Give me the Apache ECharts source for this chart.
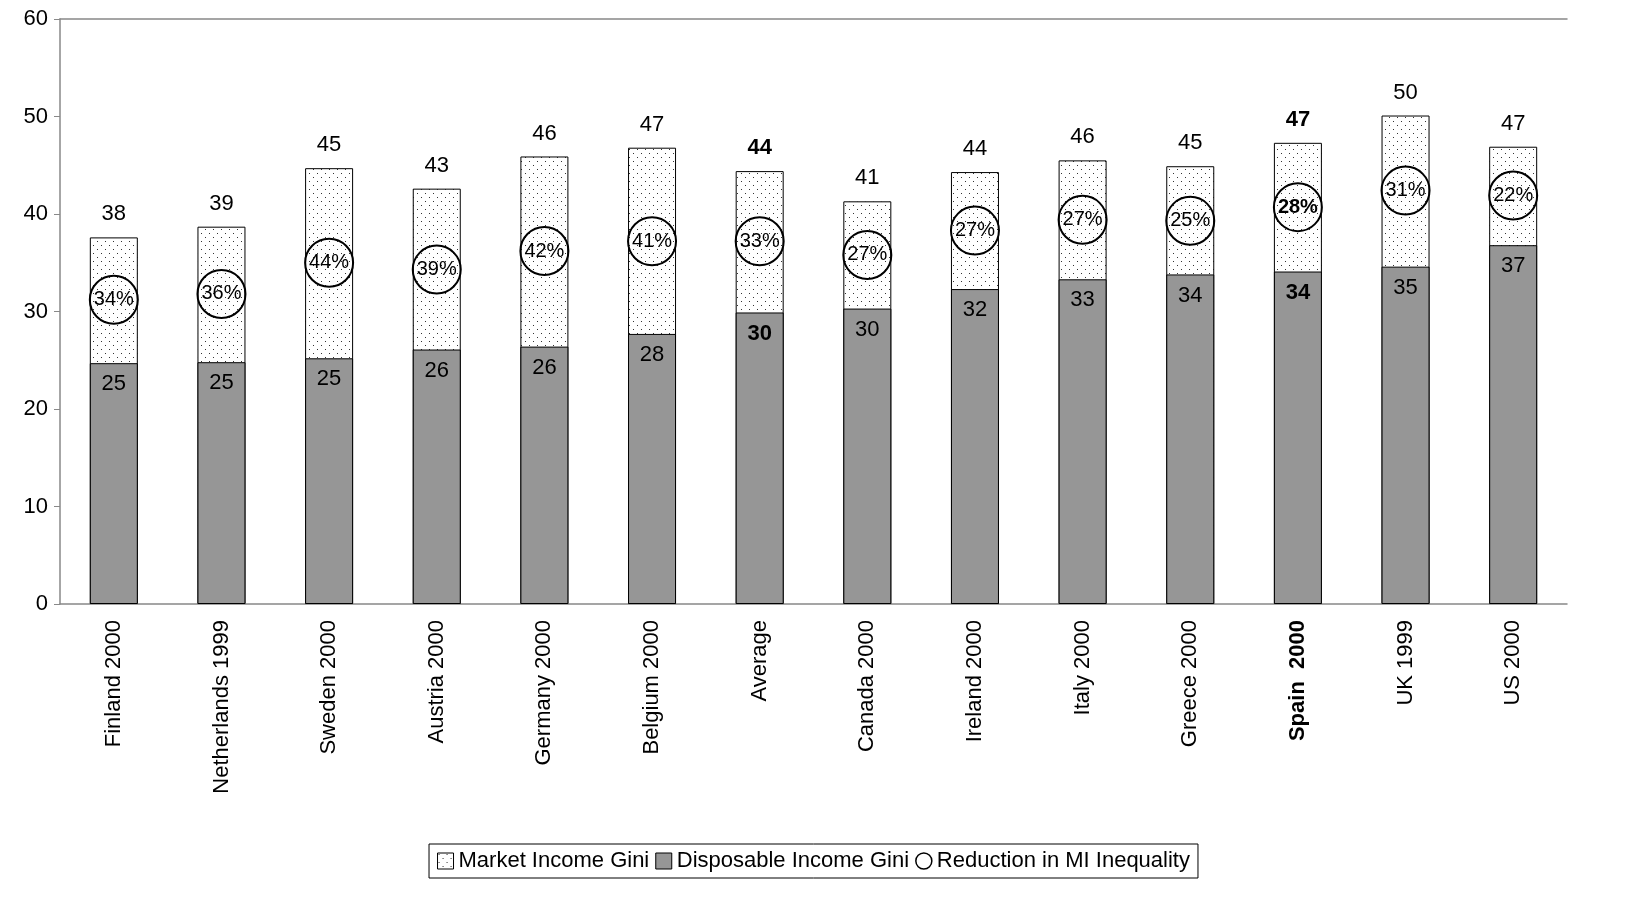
<!DOCTYPE html>
<html><head><meta charset="utf-8">
<script src="https://cdn.jsdelivr.net/npm/echarts@6/dist/echarts.min.js"></script>
<style>html,body{margin:0;padding:0;background:#fff}#c{width:1627px;height:912px}</style>
</head><body><div id="c"></div>
<script>
const categories = ['Finland 2000','Netherlands 1999','Sweden 2000','Austria 2000','Germany 2000','Belgium 2000','Average','Canada 2000','Ireland 2000','Italy 2000','Greece 2000','Spain  2000','UK 1999','US 2000'];
const marketGini = [37.6,38.7,44.7,42.6,45.9,46.8,44.4,41.3,44.3,45.5,44.9,47.3,50.1,46.9];
const dispGini = [24.7,24.8,25.2,26.1,26.4,27.7,29.9,30.3,32.3,33.3,33.8,34.1,34.6,36.8];
const circlePos = [31.2,31.8,35.0,34.3,36.2,37.2,37.2,35.8,38.3,39.4,39.3,40.7,42.4,41.9];
const reduction = [34,36,44,39,42,41,33,27,27,27,25,28,31,22];
const boldLabels = ['Average','Spain  2000'];
const boldAxis = ['Spain  2000'];
const boldCircle = ['Spain  2000'];

const cv = document.createElement('canvas'); cv.width = 8; cv.height = 8;
const cx = cv.getContext('2d'); cx.fillStyle = '#fff'; cx.fillRect(0,0,8,8);
cx.fillStyle = '#333'; cx.fillRect(1,1,1,1); cx.fillRect(5,5,1,1);
const dots = {image: cv, repeat: 'repeat'};

const font = 'Liberation Sans, Arial, sans-serif';
const isBold = i => boldLabels.includes(categories[i]);
const chart = echarts.init(document.getElementById('c'));
chart.setOption({
  animation:false,
  textStyle:{fontFamily:font,color:'#000'},
  grid:{left:60,right:60,top:19,bottom:308},
  legend:{bottom:34,left:'center',itemGap:6,itemWidth:16,itemHeight:16,padding:[6,8,6,8],
    borderColor:'#000',borderWidth:1,textStyle:{fontSize:22,fontFamily:font,color:'#000'},
    data:[{name:'Market Income Gini',icon:'rect',itemStyle:{color:dots,borderColor:'#000',borderWidth:1}},
          {name:'Disposable Income Gini',icon:'rect',itemStyle:{color:'#969696',borderColor:'#000',borderWidth:1}},
          {name:'Reduction in MI Inequality',icon:'circle',itemStyle:{color:'#fff',borderColor:'#000',borderWidth:1.5}}]},
  xAxis:[{type:'category',data:categories,
    axisLine:{lineStyle:{color:'#888',width:1.5}},axisTick:{length:8,lineStyle:{color:'#888'}},
    axisLabel:{rotate:90,fontSize:22,color:'#000',fontFamily:font,margin:16,
      formatter:(v)=>boldAxis.includes(v)?'{b|'+v+'}':v,rich:{b:{fontWeight:'bold',fontSize:22,fontFamily:font}}}},
    {type:'category',position:'top',data:categories,axisLine:{lineStyle:{color:'#888',width:1.5}},axisTick:{show:false},axisLabel:{show:false}}],
  yAxis:{type:'value',min:0,max:60,interval:10,splitLine:{show:false},
    axisLine:{show:true,lineStyle:{color:'#888',width:1.5}},axisTick:{show:true,length:6,lineStyle:{color:'#888'}},
    axisLabel:{fontSize:22,color:'#000',fontFamily:font,margin:12}},
  series:[
    {name:'Market Income Gini',type:'bar',barWidth:48,barGap:'-100%',
     data:marketGini.map((v,i)=>({value:v,label:{fontWeight:isBold(i)?'bold':'normal'}})),
     itemStyle:{color:dots,borderColor:'#000',borderWidth:1},
     label:{show:true,position:'top',distance:12,fontSize:22,color:'#000',fontFamily:font,formatter:p=>Math.round(p.value)}},
    {name:'Disposable Income Gini',type:'bar',barWidth:48,
     data:dispGini.map((v,i)=>({value:v,label:{fontWeight:isBold(i)?'bold':'normal'}})),
     itemStyle:{color:'#969696',borderColor:'#000',borderWidth:1},
     label:{show:true,position:'insideTop',distance:10,fontSize:22,color:'#000',fontFamily:font,formatter:p=>Math.round(p.value)}},
    {name:'Reduction in MI Inequality',type:'line',lineStyle:{width:0},symbol:'circle',symbolSize:48,z:5,
     itemStyle:{color:'rgba(255,255,255,0)',borderColor:'#000',borderWidth:2},
     data:circlePos.map((v,i)=>({value:v,label:{fontWeight:boldCircle.includes(categories[i])?'bold':'normal'}})),
     label:{show:true,position:'inside',fontSize:20,color:'#000',fontFamily:font,formatter:p=>reduction[p.dataIndex]+'%'}}
  ]
});
</script></body></html>
